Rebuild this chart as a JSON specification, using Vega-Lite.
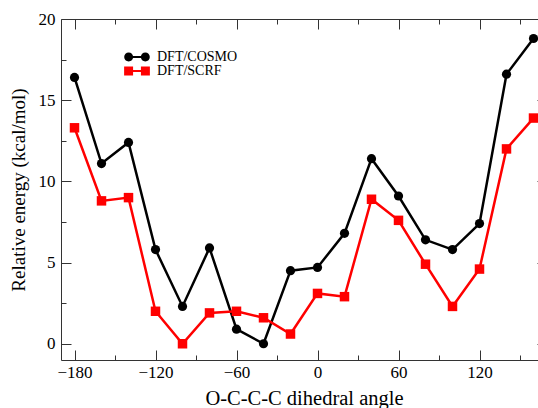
{
  "$schema": "https://vega.github.io/schema/vega-lite/v6.json",
  "width": 486,
  "height": 341,
  "autosize": {"type": "none"},
  "padding": {"left": 61, "top": 19, "right": 0, "bottom": 48},
  "config": {
    "view": {"stroke": "#333", "strokeWidth": 1},
    "font": "Liberation Serif",
    "legend": {
      "orient": "none",
      "title": null,
      "padding": 0,
      "symbolSize": 196,
      "symbolStrokeWidth": 0,
      "labelFont": "Liberation Serif",
      "labelFontSize": 14,
      "labelColor": "black",
      "labelOffset": 13
    }
  },
  "datasets": {
    "cosmo": [
      {"angle": -180, "energy": 16.4, "method": "DFT/COSMO"},
      {"angle": -160, "energy": 11.1, "method": "DFT/COSMO"},
      {"angle": -140, "energy": 12.4, "method": "DFT/COSMO"},
      {"angle": -120, "energy": 5.8, "method": "DFT/COSMO"},
      {"angle": -100, "energy": 2.3, "method": "DFT/COSMO"},
      {"angle": -80, "energy": 5.9, "method": "DFT/COSMO"},
      {"angle": -60, "energy": 0.9, "method": "DFT/COSMO"},
      {"angle": -40, "energy": 0.0, "method": "DFT/COSMO"},
      {"angle": -20, "energy": 4.5, "method": "DFT/COSMO"},
      {"angle": 0, "energy": 4.7, "method": "DFT/COSMO"},
      {"angle": 20, "energy": 6.8, "method": "DFT/COSMO"},
      {"angle": 40, "energy": 11.4, "method": "DFT/COSMO"},
      {"angle": 60, "energy": 9.1, "method": "DFT/COSMO"},
      {"angle": 80, "energy": 6.4, "method": "DFT/COSMO"},
      {"angle": 100, "energy": 5.8, "method": "DFT/COSMO"},
      {"angle": 120, "energy": 7.4, "method": "DFT/COSMO"},
      {"angle": 140, "energy": 16.6, "method": "DFT/COSMO"},
      {"angle": 160, "energy": 18.8, "method": "DFT/COSMO"}
    ],
    "scrf": [
      {"angle": -180, "energy": 13.3, "method": "DFT/SCRF"},
      {"angle": -160, "energy": 8.8, "method": "DFT/SCRF"},
      {"angle": -140, "energy": 9.0, "method": "DFT/SCRF"},
      {"angle": -120, "energy": 2.0, "method": "DFT/SCRF"},
      {"angle": -100, "energy": 0.0, "method": "DFT/SCRF"},
      {"angle": -80, "energy": 1.9, "method": "DFT/SCRF"},
      {"angle": -60, "energy": 2.0, "method": "DFT/SCRF"},
      {"angle": -40, "energy": 1.6, "method": "DFT/SCRF"},
      {"angle": -20, "energy": 0.6, "method": "DFT/SCRF"},
      {"angle": 0, "energy": 3.1, "method": "DFT/SCRF"},
      {"angle": 20, "energy": 2.9, "method": "DFT/SCRF"},
      {"angle": 40, "energy": 8.9, "method": "DFT/SCRF"},
      {"angle": 60, "energy": 7.6, "method": "DFT/SCRF"},
      {"angle": 80, "energy": 4.9, "method": "DFT/SCRF"},
      {"angle": 100, "energy": 2.3, "method": "DFT/SCRF"},
      {"angle": 120, "energy": 4.6, "method": "DFT/SCRF"},
      {"angle": 140, "energy": 12.0, "method": "DFT/SCRF"},
      {"angle": 160, "energy": 13.9, "method": "DFT/SCRF"}
    ]
  },
  "resolve": {
    "axis": {"x": "independent", "y": "independent"},
    "scale": {"color": "independent"},
    "legend": {"color": "independent"}
  },
  "layer": [
    {
      "data": {"name": "cosmo"},
      "encoding": {
        "x": {
          "field": "angle", "type": "quantitative",
          "scale": {"domain": [-190, 170], "nice": false, "zero": false},
          "axis": {
            "orient": "bottom",
            "domain": false, "grid": false,
            "title": "O-C-C-C dihedral angle",
            "titleFont": "Liberation Serif", "titleFontSize": 20.5, "titleFontWeight": "normal", "titleColor": "black",
            "labelFont": "Liberation Serif", "labelFontSize": 17, "labelColor": "black",
            "values": [-180, -150, -120, -90, -60, -30, 0, 30, 60, 90, 120, 150],
            "labelExpr": "datum.value % 60 === 0 ? datum.label : ''",
            "tickColor": "#333",
            "tickSize": {"condition": {"test": "datum.value % 60 === 0", "value": -10}, "value": -5},
            "labelPadding": 14,
            "titlePadding": 8
          }
        },
        "y": {
          "field": "energy", "type": "quantitative",
          "scale": {"domain": [-1, 20], "nice": false, "zero": false},
          "axis": {
            "orient": "left",
            "domain": false, "grid": false,
            "title": "Relative energy (kcal/mol)",
            "titleFont": "Liberation Serif", "titleFontSize": 19, "titleFontWeight": "normal", "titleColor": "black",
            "labelFont": "Liberation Serif", "labelFontSize": 17, "labelColor": "black",
            "values": [0, 2.5, 5, 7.5, 10, 12.5, 15, 17.5, 20],
            "labelExpr": "datum.value % 5 === 0 ? datum.label : ''",
            "tickColor": "#333",
            "tickSize": {"condition": {"test": "datum.value % 5 === 0", "value": -10}, "value": -5},
            "labelPadding": 16,
            "titlePadding": 10
          }
        },
        "color": {
          "field": "method", "type": "nominal",
          "scale": {"domain": ["DFT/COSMO"], "range": ["black"]},
          "legend": {
            "legendX": 69,
            "legendY": 31,
            "symbolType": "M-1.2,-0.16H1.2V0.16H-1.2Z M-1.83,0A0.64,0.64,0,1,1,-0.55,0A0.64,0.64,0,1,1,-1.83,0Z M0.55,0A0.64,0.64,0,1,1,1.83,0A0.64,0.64,0,1,1,0.55,0Z",
            "symbolFillColor": "black"
          }
        }
      },
      "layer": [
        {"mark": {"type": "line", "strokeWidth": 2.5}},
        {"mark": {"type": "point", "shape": "circle", "filled": true, "opacity": 1, "size": 85}}
      ]
    },
    {
      "data": {"name": "scrf"},
      "encoding": {
        "x": {
          "field": "angle", "type": "quantitative",
          "scale": {"domain": [-190, 170], "nice": false, "zero": false},
          "axis": {
            "orient": "top",
            "domain": false, "grid": false,
            "title": null,
            "labels": false,
            "values": [-180, -150, -120, -90, -60, -30, 0, 30, 60, 90, 120, 150],
            "tickColor": "#333",
            "tickSize": {"condition": {"test": "datum.value % 60 === 0", "value": -10}, "value": -5}
          }
        },
        "y": {
          "field": "energy", "type": "quantitative",
          "scale": {"domain": [-1, 20], "nice": false, "zero": false},
          "axis": {
            "orient": "right",
            "domain": false, "grid": false,
            "title": null,
            "labels": false,
            "values": [0, 2.5, 5, 7.5, 10, 12.5, 15, 17.5, 20],
            "tickColor": "#333",
            "tickSize": {"condition": {"test": "datum.value % 5 === 0", "value": -10}, "value": -5}
          }
        },
        "color": {
          "field": "method", "type": "nominal",
          "scale": {"domain": ["DFT/SCRF"], "range": ["#ff0000"]},
          "legend": {
            "legendX": 69,
            "legendY": 45,
            "symbolType": "M-1.2,-0.16H1.2V0.16H-1.2Z M-1.84,-0.64H-0.56V0.64H-1.84Z M0.56,-0.64H1.84V0.64H0.56Z",
            "symbolFillColor": "#ff0000"
          }
        }
      },
      "layer": [
        {"mark": {"type": "line", "strokeWidth": 2.5}},
        {"mark": {"type": "point", "shape": "square", "filled": true, "opacity": 1, "size": 90}}
      ]
    }
  ]
}
